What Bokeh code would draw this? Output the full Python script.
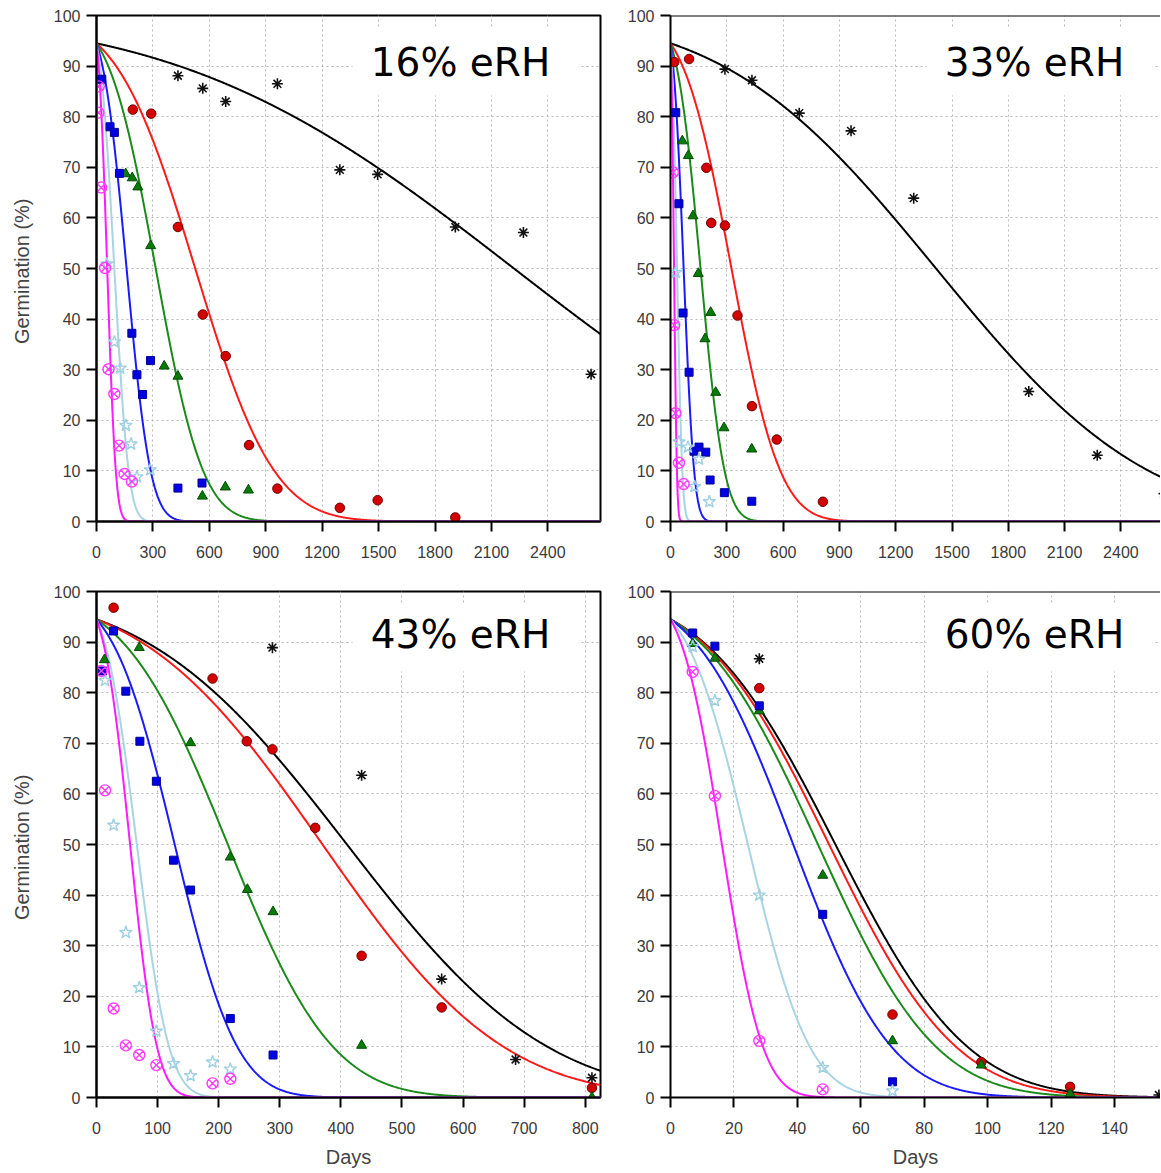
from statistics import NormalDist
import numpy as np
from bokeh.plotting import figure
from bokeh.models import Range1d, FixedTicker, BoxAnnotation, Label, Span, ColumnDataSource
from bokeh.layouts import column, row
from bokeh.embed import file_html
from bokeh.resources import INLINE

# ---------------- data ----------------
INITIAL_GERMINATION = 94.5   # % germination at day 0 (common start of every fitted curve)
SERIES = ["black", "red", "green", "blue", "lightblue", "magenta"]

# 16% eRH
rh16_black_x = [433, 565, 687, 962, 1294, 1495, 1908, 2270, 2630]
rh16_black_y = [88.1, 85.6, 83.0, 86.5, 69.5, 68.6, 58.2, 57.1, 29.1]
rh16_red_x = [193, 291, 433, 565, 687, 811, 962, 1294, 1495, 1908]
rh16_red_y = [81.4, 80.6, 58.2, 40.9, 32.7, 15.1, 6.5, 2.7, 4.2, 0.8]
rh16_green_x = [155, 190, 220, 288, 360, 433, 563, 685, 808]
rh16_green_y = [68.7, 67.9, 66.1, 54.5, 30.7, 28.7, 5.0, 6.8, 6.2]
rh16_blue_x = [28, 72, 95, 122, 188, 215, 245, 287, 433, 561]
rh16_blue_y = [87.4, 78.0, 76.9, 68.8, 37.2, 29.0, 25.1, 31.8, 6.6, 7.6]
rh16_lightblue_x = [55, 95, 126, 156, 184, 215, 286]
rh16_lightblue_y = [50.9, 35.5, 30.3, 19.0, 15.3, 8.8, 10.2]
rh16_magenta_x = [12, 10, 25, 46, 64, 95, 120, 149, 188]
rh16_magenta_y = [86.0, 80.8, 66.0, 50.1, 30.1, 25.2, 15.0, 9.4, 7.9]
rh16_p50 = [2220, 525, 315, 160, 95, 57]        # days at which each fitted curve crosses 50 %

# 33% eRH
rh33_black_x = [290, 434, 686, 962, 1296, 1909, 2274, 2630]
rh33_black_y = [89.4, 87.2, 80.7, 77.2, 63.9, 25.7, 13.1, 5.5]
rh33_red_x = [20, 99, 191, 217, 290, 357, 434, 566, 812]
rh33_red_y = [90.8, 91.4, 69.9, 59.0, 58.5, 40.7, 22.8, 16.2, 3.9]
rh33_green_x = [63, 95, 120, 148, 184, 214, 241, 285, 433]
rh33_green_y = [75.2, 72.3, 60.4, 49.0, 36.1, 41.3, 25.5, 18.5, 14.3]
rh33_blue_x = [28, 45, 67, 99, 125, 152, 188, 211, 287, 433]
rh33_blue_y = [80.8, 62.8, 41.2, 29.5, 13.9, 14.7, 13.7, 8.2, 5.7, 4.0]
rh33_lightblue_x = [28, 45, 93, 128, 152, 207]
rh33_lightblue_y = [49.2, 15.7, 14.7, 6.9, 12.3, 3.9]
rh33_magenta_x = [13, 20, 26, 45, 70]
rh33_magenta_y = [69.0, 38.8, 21.4, 11.6, 7.4]
rh33_p50 = [1415, 325, 160, 70, 35, 19]

# 43% eRH
rh43_black_x = [288, 434, 565, 686, 811]
rh43_black_y = [88.9, 63.7, 23.4, 7.5, 3.9]
rh43_red_x = [28, 190, 246, 288, 358, 434, 565, 811]
rh43_red_y = [96.8, 82.8, 70.4, 68.8, 53.3, 28.0, 17.8, 1.9]
rh43_green_x = [13, 70, 154, 219, 247, 289, 434, 811]
rh43_green_y = [86.5, 88.9, 70.1, 47.5, 41.1, 36.7, 10.3, 0.0]
rh43_blue_x = [10, 28, 48, 71, 98, 126, 154, 219, 289]
rh43_blue_y = [84.3, 92.2, 80.3, 70.4, 62.5, 46.9, 41.0, 15.6, 8.4]
rh43_lightblue_x = [14, 28, 48, 70, 98, 126, 154, 190, 219]
rh43_lightblue_y = [82.4, 53.8, 32.6, 21.7, 13.1, 6.7, 4.3, 7.0, 5.6]
rh43_magenta_x = [8, 14, 28, 48, 70, 98, 190, 219]
rh43_magenta_y = [84.3, 60.7, 17.6, 10.3, 8.4, 6.4, 2.8, 3.7]
rh43_p50 = [410, 370, 215, 128, 66, 55]

# 60% eRH
rh60_black_x = [28, 154]
rh60_black_y = [86.7, 0.5]
rh60_red_x = [28, 70, 98, 126]
rh60_red_y = [80.9, 16.4, 7.0, 2.1]
rh60_green_x = [7, 14, 28, 48, 70, 98, 126]
rh60_green_y = [89.7, 86.8, 76.4, 43.9, 11.2, 6.4, 0.7]
rh60_blue_x = [7, 14, 28, 48, 70]
rh60_blue_y = [91.8, 89.2, 77.4, 36.2, 3.1]
rh60_lightblue_x = [7, 14, 28, 48, 70]
rh60_lightblue_y = [89.1, 78.4, 40.0, 5.9, 1.3]
rh60_magenta_x = [7, 14, 28, 48]
rh60_magenta_y = [84.1, 59.6, 11.2, 1.6]
rh60_p50 = [52, 50, 46.5, 38.7, 24.4, 16.2]

y_ticks = [0, 10, 20, 30, 40, 50, 60, 70, 80, 90, 100]
x_ticks_long = [0, 300, 600, 900, 1200, 1500, 1800, 2100, 2400]
x_ticks_43 = [0, 100, 200, 300, 400, 500, 600, 700, 800]
x_ticks_60 = [0, 20, 40, 60, 80, 100, 120, 140]

panel_titles = ["16% eRH", "33% eRH", "43% eRH", "60% eRH"]
x_axis_ends = [2680, 2611, 825, 154.5]

# ---------------- styles ----------------
CURVE_COLOR = {"black": "#000000", "red": "#ff1a1a", "green": "#1a8a1a",
               "blue": "#1a1aff", "lightblue": "#a8d4e4", "magenta": "#ff1aff"}
MARK_STYLE = {
    "black": dict(marker="asterisk", size=11, line_color="#111111", fill_color=None, line_width=1.6),
    "red": dict(marker="circle", size=9.5, line_color="#6e0000", fill_color="#d40000", line_width=1),
    "green": dict(marker="triangle", size=10, line_color="#004d00", fill_color="#0a7a0a", line_width=1),
    "blue": dict(marker="square", size=8, line_color="#00009a", fill_color="#0000e0", line_width=1),
    "lightblue": dict(marker="star", size=13, line_color="#9fd0e2", fill_color=None, line_width=1.4),
    "magenta": dict(marker="circle_x", size=11, line_color="#ff3cff", fill_color=None, line_width=1.4),
}

ND = NormalDist()
KI = ND.inv_cdf(INITIAL_GERMINATION / 100.0)

BORDER_LEFT = {True: 96, False: 50}
BORDER_RIGHT = {True: 20, False: 0}
WIDTH = {True: 620, False: 540}
BORDER_TOP = {True: 15, False: 15}
BORDER_BOTTOM = {True: 55, False: 75}
HEIGHT = {True: 576, False: 596}


def make_panel(idx, points, p50s, x_ticks):
    left = idx % 2 == 0
    top = idx < 2
    x_end = x_axis_ends[idx]
    p = figure(width=WIDTH[left], height=HEIGHT[top], output_backend="svg", toolbar_location=None,
               x_range=Range1d(0, x_end), y_range=Range1d(0, 100),
               min_border_left=BORDER_LEFT[left], min_border_right=BORDER_RIGHT[left],
               min_border_top=BORDER_TOP[top], min_border_bottom=BORDER_BOTTOM[top],
               background_fill_color="white", border_fill_color="white")
    frame_w = WIDTH[left] - BORDER_LEFT[left] - BORDER_RIGHT[left]
    frame_h = HEIGHT[top] - BORDER_TOP[top] - BORDER_BOTTOM[top]

    p.xaxis.ticker = FixedTicker(ticks=x_ticks)
    p.yaxis.ticker = FixedTicker(ticks=y_ticks)
    for ax in (p.xaxis[0], p.yaxis[0]):
        ax.axis_line_width = 2
        ax.axis_line_color = "black"
        ax.major_tick_line_width = 2
        ax.major_tick_line_color = "black"
        ax.major_tick_out = 10
        ax.major_tick_in = 0
        ax.minor_tick_line_color = None
        ax.major_label_text_font = "Liberation Sans"
        ax.major_label_text_font_size = "16px"
        ax.major_label_text_color = "#3a3a3a"
        ax.major_label_standoff = 6
        ax.axis_label_text_font = "Liberation Sans"
        ax.axis_label_text_font_size = "20px"
        ax.axis_label_text_font_style = "normal"
        ax.axis_label_text_color = "#444444"
    p.xaxis.major_label_standoff = 14
    if left:
        p.yaxis.axis_label = "Germination  (%)"
        p.yaxis.axis_label_standoff = 18
    if not top:
        p.xaxis.axis_label = "Days"
        p.xaxis.axis_label_standoff = 9

    p.grid.grid_line_color = "#b8b8b8"
    p.grid.grid_line_dash = "2 3"
    p.grid.grid_line_width = 1

    if left:
        p.outline_line_color = "black"
        p.outline_line_width = 2
    else:
        p.outline_line_color = None
        p.add_layout(Span(location=100, dimension="width", line_color="black", line_width=2))

    # white label box and label
    box_left = 256 / frame_w * x_end
    box_right = 482 / frame_w * x_end
    p.add_layout(BoxAnnotation(left=box_left, right=box_right,
                               top=100 - 13 / frame_h * 100, bottom=100 - 80 / frame_h * 100,
                               fill_color="white", fill_alpha=1.0, line_color=None, level="underlay"))
    p.add_layout(Label(x=364 / frame_w * x_end, y=100 - (47 if top else 43) / frame_h * 100,
                       text=panel_titles[idx], text_font="DejaVu Sans", text_font_size="39px",
                       text_color="black", text_align="center", text_baseline="middle"))

    xs = np.linspace(0, x_end, 700)
    for name, p50 in zip(SERIES, p50s):
        sigma = p50 / KI
        ys = [100.0 * ND.cdf(KI - x / sigma) for x in xs]
        p.line(xs, ys, line_color=CURVE_COLOR[name], line_width=2)
    for name in SERIES:
        px, py = points[name]
        src = ColumnDataSource(dict(x=px, y=py))
        p.scatter("x", "y", source=src, **MARK_STYLE[name])
    return p


pts16 = {"black": (rh16_black_x, rh16_black_y), "red": (rh16_red_x, rh16_red_y),
         "green": (rh16_green_x, rh16_green_y), "blue": (rh16_blue_x, rh16_blue_y),
         "lightblue": (rh16_lightblue_x, rh16_lightblue_y), "magenta": (rh16_magenta_x, rh16_magenta_y)}
pts33 = {"black": (rh33_black_x, rh33_black_y), "red": (rh33_red_x, rh33_red_y),
         "green": (rh33_green_x, rh33_green_y), "blue": (rh33_blue_x, rh33_blue_y),
         "lightblue": (rh33_lightblue_x, rh33_lightblue_y), "magenta": (rh33_magenta_x, rh33_magenta_y)}
pts43 = {"black": (rh43_black_x, rh43_black_y), "red": (rh43_red_x, rh43_red_y),
         "green": (rh43_green_x, rh43_green_y), "blue": (rh43_blue_x, rh43_blue_y),
         "lightblue": (rh43_lightblue_x, rh43_lightblue_y), "magenta": (rh43_magenta_x, rh43_magenta_y)}
pts60 = {"black": (rh60_black_x, rh60_black_y), "red": (rh60_red_x, rh60_red_y),
         "green": (rh60_green_x, rh60_green_y), "blue": (rh60_blue_x, rh60_blue_y),
         "lightblue": (rh60_lightblue_x, rh60_lightblue_y), "magenta": (rh60_magenta_x, rh60_magenta_y)}

p1 = make_panel(0, pts16, rh16_p50, x_ticks_long)
p2 = make_panel(1, pts33, rh33_p50, x_ticks_long)
p3 = make_panel(2, pts43, rh43_p50, x_ticks_43)
p4 = make_panel(3, pts60, rh60_p50, x_ticks_60)

layout = column(row(p1, p2, spacing=0), row(p3, p4, spacing=0), spacing=0)
open("out.html", "w").write(file_html(layout, INLINE))
